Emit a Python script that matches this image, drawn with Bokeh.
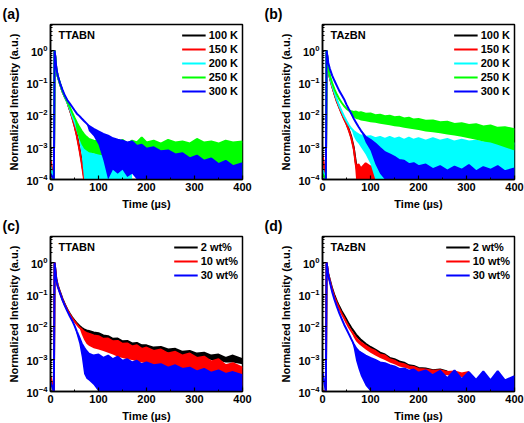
import numpy as np
from bokeh.plotting import figure
from bokeh.models import (Range1d, SingleIntervalTicker, FixedTicker, LogTickFormatter,
                          Label, Legend, LegendItem)
from bokeh.layouts import column, row
from bokeh.embed import file_html
from bokeh.resources import INLINE

N = None
# time grid (µs)
T = [0, 7, 8.5, 10, 12,
     15, 20, 25, 30, 35,
     40, 45, 50, 55, 60,
     65, 70, 75, 80, 90,
     100, 110, 120, 130, 140,
     150, 160, 170, 180, 190,
     200, 215, 230, 245, 260,
     275, 290, 305, 320, 335,
     350, 365, 380, 400]

# ---------------- (a) TTABN, temperature ----------------
a_labels = ["100 K", "150 K", "200 K", "250 K", "300 K"]
a_black = [1e-4, 1e-4, 1.0, 0.6, 0.28,
           0.16, 0.09, 0.053, 0.036, 0.025,
           0.015, 0.0088, 0.0048, 0.0024, 0.001,
           3.8e-4, 1.2e-4, N, N, N,
           N, N, N, N, N, N, N, N, N, N, N, N, N, N, N, N, N, N, N, N, N, N, N, N]
a_red = [4e-4, 1e-4, 1.0, 0.6, 0.28,
         0.16, 0.09, 0.053, 0.036, 0.025,
         0.015, 0.0085, 0.0046, 0.0022, 9e-4,
         3.2e-4, 1e-4, 2e-4, N, N,
         N, N, N, N, N, N, N, N, N, N, N, N, N, N, N, N, N, N, N, N, N, N, N, N]
a_cyan = [2.5e-4, 1e-4, 1.0, 0.6, 0.28,
          0.16, 0.092, 0.054, 0.036, 0.025,
          0.016, 0.0098, 0.0062, 0.0037, 0.0022,
          0.0013, 9e-4, 8e-4, 7e-4, 6e-4,
          6.5e-4, 5e-4, 4.5e-4, 5e-4, 3.5e-4,
          3.2e-4, 3e-4, 2.5e-4, N, N,
          N, N, N, N, N, N, N, N, N, N, N, N, N, N]
a_cyan_lo = a_cyan[:14] + [1.5e-3, 6e-4, 1e-4, 1e-4, 1e-4, 1e-4,
                           1e-4, 1e-4, 1e-4, 1e-4, 1e-4,
                           1e-4, 1e-4, 1e-4, N, N,
                           N, N, N, N, N, N, N, N, N, N, N, N, N, N]
a_green = [1e-4, 1e-4, 1.0, 0.6, 0.28,
           0.16, 0.094, 0.055, 0.037, 0.026,
           0.018, 0.012, 0.0082, 0.0058, 0.0042,
           0.0032, 0.0025, 0.0021, 0.0018, 0.0016,
           0.0015, 0.0016, 0.0013, 0.0015, 0.0014,
           0.0017, 0.0013, 0.0016, 0.0014, 0.002,
           0.0014, 0.0016, 0.0013, 0.0017, 0.0014,
           0.0015, 0.0013, 0.0018, 0.0014, 0.0015,
           0.0013, 0.0016, 0.0014, 0.0015]
a_green_lo = a_green[:13] + [0.003, 0.0018, 0.0012, 9e-4, 8e-4, 7e-4, 6.5e-4,
                             6e-4, 5.5e-4, 5e-4, 5e-4, 4.5e-4,
                             4.5e-4, 4e-4, 3.5e-4, 2e-4, 1e-4,
                             1e-4, 1e-4, 1e-4, 1e-4, 1e-4,
                             1e-4, 1e-4, 1e-4, 1e-4, 1e-4,
                             1e-4, 1e-4, 1e-4, 1e-4]
a_blue = [1.5e-4, 1e-4, 1.0, 0.65, 0.3,
          0.17, 0.096, 0.06, 0.04, 0.029,
          0.023, 0.018, 0.014, 0.011, 0.0094,
          0.0078, 0.0065, 0.0055, 0.0046, 0.0037,
          0.0031, 0.0026, 0.0023, 0.0019, 0.0017,
          0.0016, 0.0014, 0.0015, 0.0011, 0.0012,
          9e-4, 0.001, 7.5e-4, 8e-4, 6e-4,
          6.5e-4, 4.5e-4, 5.5e-4, 3.8e-4, 4.5e-4,
          3e-4, 3.8e-4, 2.6e-4, 3.2e-4]
a_blue_lo = a_blue[:18] + [0.0032, 0.0022,
                           0.0012, 4e-4, 1e-4, 2e-4, 1.5e-4,
                           2e-4, 1.2e-4, 1.5e-4, 1e-4, 1e-4,
                           1e-4, 1e-4, 1e-4, 1e-4, 1e-4,
                           1e-4, 1e-4, 1e-4, 1e-4, 1e-4,
                           1e-4, 1e-4, 1e-4, 1e-4]

# ---------------- (b) TAzBN, temperature ----------------
b_labels = ["100 K", "150 K", "200 K", "250 K", "300 K"]
b_black = [1e-4, 1e-4, 1.0, 0.6, 0.25,
           0.15, 0.08, 0.045, 0.027, 0.0175,
           0.0115, 0.0078, 0.0054, 0.0035, 0.0021,
           0.001, 3e-4, 1e-4, N, N,
           N, N, N, N, N, N, N, N, N, N, N, N, N, N, N, N, N, N, N, N, N, N, N, N]
b_red = [6e-4, 1e-4, 1.0, 0.6, 0.25,
         0.15, 0.078, 0.044, 0.026, 0.017,
         0.011, 0.0075, 0.0052, 0.0033, 0.0019,
         9e-4, 2.5e-4, 3e-4, 2.2e-4, 3.2e-4,
         2.5e-4, 3e-4, 2e-4, 2.5e-4, N,
         N, N, N, N, N, N, N, N, N, N, N, N, N, N, N, N, N, N, N]
b_red_lo = b_red[:16] + [1e-4, 1e-4, 1e-4, 1e-4, 1e-4, 1e-4, 1e-4, 1e-4,
                         N, N, N, N, N, N, N, N, N, N, N, N, N, N, N, N, N, N, N, N]
b_cyan = [2e-4, 1e-4, 1.0, 0.6, 0.27,
          0.16, 0.085, 0.05, 0.03, 0.019,
          0.013, 0.009, 0.0065, 0.0048, 0.0038,
          0.0032, 0.0028, 0.0025, 0.0023, 0.0021,
          0.0022, 0.0019, 0.0021, 0.0018, 0.0021,
          0.0018, 0.002, 0.0017, 0.002, 0.0017,
          0.0019, 0.0016, 0.0019, 0.0016, 0.0018,
          0.0015, 0.0017, 0.0015, 0.0016, 0.0014,
          0.0016, 0.0013, 0.0015, 0.0013]
b_cyan_lo = b_cyan[:15] + [0.0022, 0.0016, 0.0013, 0.001, 6e-4,
                           3e-4, 1e-4, 1e-4, 1e-4, 1e-4,
                           1e-4, 1e-4, 1e-4, 1e-4, 1e-4,
                           1e-4, 1e-4, 1e-4, 1e-4, 1e-4,
                           1e-4, 1e-4, 1e-4, 1e-4, 1e-4,
                           1e-4, 1e-4, 1e-4, 1e-4]
b_green = [1.5e-4, 1e-4, 1.0, 0.6, 0.3,
           0.17, 0.1, 0.062, 0.043, 0.031,
           0.024, 0.019, 0.0158, 0.0138, 0.013,
           0.0125, 0.0128, 0.0118, 0.0122, 0.011,
           0.0112, 0.0098, 0.0102, 0.0092, 0.0095,
           0.0085, 0.0088, 0.0078, 0.0082, 0.0072,
           0.0075, 0.0066, 0.0068, 0.006, 0.0062,
           0.0053, 0.0056, 0.0049, 0.0052, 0.0044,
           0.0047, 0.004, 0.0042, 0.0036]
b_green_lo = b_green[:14] + [0.0098, 0.0085, 0.0075, 0.0072, 0.0068, 0.0064,
                             0.006, 0.0057, 0.0054, 0.0051, 0.0048,
                             0.0045, 0.0043, 0.004, 0.0038, 0.0036,
                             0.0034, 0.0031, 0.0029, 0.0027, 0.0025,
                             0.0023, 0.0021, 0.0019, 0.0017, 0.0015,
                             0.0014, 0.0012, 0.001, 8e-4]
b_blue = [1e-4, 1e-4, 1.0, 0.7, 0.42,
          0.28, 0.17, 0.115, 0.08, 0.056,
          0.042, 0.031, 0.021, 0.015, 0.011,
          0.0078, 0.0058, 0.0043, 0.0033, 0.0021,
          0.0017, 0.0013, 9.5e-4, 7e-4, 6e-4,
          5e-4, 4e-4, 3.8e-4, 3e-4, 3.2e-4,
          2.6e-4, 2.9e-4, 2.1e-4, 2.6e-4, 1.9e-4,
          2.5e-4, 2e-4, 2.8e-4, 1.8e-4, 2.4e-4,
          2e-4, 2.6e-4, 1.8e-4, 2.2e-4]
b_blue_lo = b_blue[:19] + [0.0014, 8e-4, 3e-4, 1.5e-4,
                           1e-4, 1e-4, 1e-4, 1e-4, 1e-4, 1e-4, 1e-4,
                           1e-4, 1e-4, 1e-4, 1e-4, 1e-4, 1e-4, 1e-4,
                           1e-4, 1e-4, 1e-4, 1e-4, 1e-4, 1e-4, 1e-4]

# ---------------- (c) TTABN, doping ----------------
c_labels = ["2 wt%", "10 wt%", "30 wt%"]
c_black = [1e-4, 1e-4, 1.0, 0.6, 0.32,
           0.2, 0.12, 0.075, 0.05, 0.035,
           0.026, 0.02, 0.016, 0.013, 0.011,
           0.0095, 0.0085, 0.0078, 0.0075, 0.0068,
           0.0064, 0.0055, 0.0052, 0.0043, 0.0044,
           0.0036, 0.0037, 0.0031, 0.0032, 0.0027,
           0.0027, 0.0023, 0.0024, 0.002, 0.0021,
           0.0017, 0.0018, 0.0015, 0.0016, 0.0013,
           0.0014, 0.0011, 0.0013, 0.001]
c_black_lo = c_black[:14] + [0.0095, 0.0075, 0.0068, 0.006, 0.0058, 0.0052,
                             0.0048, 0.0042, 0.0038, 0.0034, 0.0032,
                             0.0029, 0.0027, 0.0025, 0.0024, 0.0021,
                             0.002, 0.0018, 0.0018, 0.0016, 0.0015,
                             0.0013, 0.0013, 0.0011, 0.0011, 9.5e-4,
                             9e-4, 8e-4, 8e-4, 7e-4]
c_red = [3e-4, 1e-4, 1.0, 0.6, 0.3,
         0.19, 0.115, 0.072, 0.048, 0.034,
         0.025, 0.019, 0.015, 0.012, 0.0098,
         0.0085, 0.0072, 0.0066, 0.0062, 0.0055,
         0.0052, 0.0043, 0.0044, 0.0036, 0.0037,
         0.003, 0.0031, 0.0025, 0.0027, 0.0021,
         0.0023, 0.0018, 0.002, 0.0015, 0.0017,
         0.0013, 0.0015, 0.0011, 0.0012, 8.5e-4,
         0.001, 6.5e-4, 7.5e-4, 5.5e-4]
c_red_lo = c_red[:15] + [0.006, 0.004, 0.003, 0.0026, 0.0022,
                         0.002, 0.0018, 0.0016, 0.0014, 0.0012,
                         0.0011, 0.001, 9.5e-4, 8.5e-4, 8e-4,
                         7.5e-4, 6.5e-4, 6e-4, 5.5e-4, 5e-4,
                         4.5e-4, 4e-4, 3.5e-4, 3e-4, 2.8e-4,
                         2.5e-4, 2e-4, 1.8e-4, 1.5e-4]
c_blue = [2e-4, 1e-4, 1.0, 0.6, 0.3,
          0.18, 0.11, 0.068, 0.045, 0.031,
          0.022, 0.016, 0.011, 0.0072, 0.0048,
          0.0031, 0.0023, 0.0018, 0.0015, 0.0013,
          0.0014, 0.0011, 0.0013, 0.001, 0.0012,
          9e-4, 0.001, 8e-4, 9e-4, 7e-4,
          8e-4, 6.5e-4, 7e-4, 5.5e-4, 6.5e-4,
          5e-4, 5.5e-4, 4.2e-4, 5e-4, 3.8e-4,
          4.5e-4, 3.5e-4, 4e-4, 3.2e-4]
c_blue_lo = c_blue[:13] + [0.0055, 0.003, 0.0012, 3.5e-4, 2.5e-4, 2.2e-4, 1.6e-4,
                           1e-4, 1e-4, 1e-4, 1e-4, 1e-4, 1e-4, 1e-4, 1e-4,
                           1e-4, 1e-4, 1e-4, 1e-4, 1e-4, 1e-4, 1e-4, 1e-4,
                           1e-4, 1e-4, 1e-4, 1e-4, 1e-4, 1e-4, 1e-4, 1e-4]

# ---------------- (d) TAzBN, doping ----------------
d_labels = ["2 wt%", "10 wt%", "30 wt%"]
d_black = [1e-4, 1e-4, 1.0, 0.7, 0.45,
           0.3, 0.16, 0.095, 0.062, 0.043,
           0.031, 0.023, 0.017, 0.0125, 0.0095,
           0.0075, 0.0058, 0.0048, 0.004, 0.003,
           0.0024, 0.002, 0.0016, 0.0014, 0.0011,
           0.001, 8.5e-4, 7.8e-4, 6.5e-4, 6.2e-4,
           5.4e-4, 5.2e-4, 4.6e-4, 4.8e-4, 4.2e-4,
           N, N, N, N, N, N, N, N, N]
d_black_lo = d_black[:14] + [0.0085, 0.0065, 0.005, 0.0042, 0.0036, 0.0028,
                             0.0022, 0.0018, 0.0015, 0.0013, 0.001,
                             9e-4, 8e-4, 7e-4, 6e-4, 5.6e-4,
                             5e-4, 4.8e-4, 4.2e-4, 4.4e-4, 3.8e-4,
                             N, N, N, N, N, N, N, N, N]
d_red = [1e-4, 1e-4, 1.0, 0.7, 0.43,
         0.28, 0.145, 0.085, 0.055, 0.037,
         0.026, 0.019, 0.0135, 0.0098, 0.0075,
         0.0058, 0.0046, 0.0038, 0.0033, 0.0026,
         0.0021, 0.0018, 0.0014, 0.0013, 0.001,
         9e-4, 7.5e-4, 7e-4, 6e-4, 5.8e-4,
         5e-4, 4.8e-4, 4.4e-4, 4.6e-4, 4e-4,
         4.2e-4, 3.6e-4, 4e-4, N, N,
         N, N, N, N]
d_red_lo = d_red[:15] + [0.0048, 0.0036, 0.003, 0.0026, 0.002,
                         0.0016, 0.0013, 0.0011, 9.5e-4, 8e-4,
                         7e-4, 6e-4, 5.5e-4, 5e-4, 4.5e-4,
                         4e-4, 3.8e-4, 3.5e-4, 3.4e-4, 3.2e-4,
                         3e-4, 2.8e-4, 2.6e-4,
                         N, N, N, N, N, N]
d_blue = [4e-4, 1e-4, 1.0, 0.7, 0.4,
          0.26, 0.125, 0.07, 0.043, 0.027,
          0.018, 0.012, 0.0085, 0.006, 0.0042,
          0.003, 0.0022, 0.0018, 0.0016, 0.0013,
          0.0011, 9.5e-4, 8e-4, 7.5e-4, 6.5e-4,
          6e-4, 5e-4, 5.2e-4, 4.4e-4, 4.8e-4,
          3.8e-4, 4.5e-4, 3.2e-4, 4.4e-4, 2.6e-4,
          4.5e-4, 2.4e-4, 4e-4, 2.3e-4, 4.2e-4,
          2.2e-4, 4.3e-4, 2.2e-4, 3e-4]
d_blue_lo = d_blue[:15] + [0.0022, 9e-4, 5e-4, 3e-4, 1.5e-4,
                           1e-4, 1e-4, 1e-4, 1e-4, 1e-4, 1e-4, 1e-4, 1e-4,
                           1e-4, 1e-4, 1e-4, 1e-4, 1e-4, 1e-4, 1e-4, 1e-4,
                           1e-4, 1e-4, 1e-4, 1e-4, 1e-4, 1e-4, 1e-4, 1e-4]

Y_TICKS = [1e-4, 1e-3, 1e-2, 1e-1, 1.0]
X_TICK_INTERVAL = 100
Y_TOP = 6.4

FONT = "Liberation Sans"
BLACK, RED, CYAN, GREEN, BLUE = "#000000", "#ff0000", "#00ffff", "#00ff00", "#0000ff"
FW, FH = 192, 155


def arr(v):
    return np.array([np.nan if x is None else x for x in v], dtype=float)


def make_panel(tag, name, series, labels, colors, bl, br, bt, bb):
    p = figure(frame_width=FW, frame_height=FH, y_axis_type="log",
               x_range=Range1d(0, 400), y_range=Range1d(1e-4, Y_TOP),
               output_backend="svg", toolbar_location=None,
               min_border_left=bl, min_border_right=br,
               min_border_top=bt, min_border_bottom=bb,
               background_fill_color="white", border_fill_color="white")
    p.xgrid.visible = False
    p.ygrid.visible = False
    p.outline_line_color = "black"
    p.outline_line_width = 1.5
    p.outline_line_alpha = 1.0

    # panel tag as title, shifted left of the frame
    p.title.text = tag
    p.title.align = "left"
    p.title.offset = -(bl - 2)
    p.title.standoff = 6
    p.title.text_font = FONT
    p.title.text_font_style = "bold"
    p.title.text_font_size = "14px"
    p.title.text_color = "black"

    x = np.array(T, dtype=float)
    items = []
    for (hi, lo), lab, col in zip(series, labels, colors):
        h = arr(hi)
        if lo is not None:
            l = arr(lo)
            m = np.isfinite(h) & np.isfinite(l)
            p.varea(x=x[m], y1=l[m], y2=h[m], fill_color=col, fill_alpha=1.0)
        r = p.line(x, h, line_color=col, line_width=2)
        items.append(LegendItem(label=lab, renderers=[r]))

    p.xaxis.ticker = SingleIntervalTicker(interval=X_TICK_INTERVAL, num_minor_ticks=2)
    minors = [k * 10.0 ** e for e in range(-4, 1) for k in range(2, 10)]
    p.yaxis.ticker = FixedTicker(ticks=Y_TICKS, minor_ticks=minors)
    p.yaxis.formatter = LogTickFormatter()
    p.xaxis.axis_label = "Time (µs)"
    p.yaxis.axis_label = "Normalized Intensity (a.u.)"
    for ax in (p.xaxis[0], p.yaxis[0]):
        ax.axis_line_width = 1.5
        ax.axis_line_color = "black"
        ax.major_tick_in = 4
        ax.major_tick_out = 0
        ax.minor_tick_in = 2
        ax.minor_tick_out = 0
        ax.major_tick_line_width = 1.2
        ax.minor_tick_line_width = 1
        ax.major_tick_line_color = "black"
        ax.minor_tick_line_color = "black"
        ax.major_label_text_font = FONT
        ax.major_label_text_font_style = "bold"
        ax.major_label_text_font_size = "11px"
        ax.major_label_text_color = "black"
        ax.axis_label_text_font = FONT
        ax.axis_label_text_font_style = "bold"
        ax.axis_label_text_font_size = "11px"
        ax.axis_label_text_color = "black"
        ax.major_label_standoff = 3
    p.xaxis.axis_label_standoff = 4
    p.yaxis.axis_label_standoff = 3

    leg = Legend(items=items, location="top_right", glyph_width=24, glyph_height=14,
                 label_height=14, label_standoff=3, spacing=0, padding=2, margin=2,
                 border_line_alpha=0, background_fill_alpha=0,
                 label_text_font=FONT, label_text_font_style="bold",
                 label_text_font_size="11px", label_text_color="black")
    p.add_layout(leg)

    p.add_layout(Label(x=16.7, y=3.0, text=name, text_baseline="middle",
                       text_font=FONT, text_font_style="bold",
                       text_font_size="11px", text_color="black"))
    return p


pa = make_panel("(a)", "TTABN",
                [(a_black, None), (a_red, None), (a_cyan, a_cyan_lo),
                 (a_green, a_green_lo), (a_blue, a_blue_lo)],
                a_labels, [BLACK, RED, CYAN, GREEN, BLUE], 50, 20, 23, 33)
pb = make_panel("(b)", "TAzBN",
                [(b_black, None), (b_red, b_red_lo), (b_cyan, b_cyan_lo),
                 (b_green, b_green_lo), (b_blue, b_blue_lo)],
                b_labels, [BLACK, RED, CYAN, GREEN, BLUE], 60, 10, 23, 33)
pc = make_panel("(c)", "TTABN",
                [(c_black, c_black_lo), (c_red, c_red_lo), (c_blue, c_blue_lo)],
                c_labels, [BLACK, RED, BLUE], 50, 20, 23, 34)
pd = make_panel("(d)", "TAzBN",
                [(d_black, d_black_lo), (d_red, d_red_lo), (d_blue, d_blue_lo)],
                d_labels, [BLACK, RED, BLUE], 60, 10, 23, 34)

layout = column(row(pa, pb), row(pc, pd))
open("out.html", "w").write(file_html(layout, INLINE))
